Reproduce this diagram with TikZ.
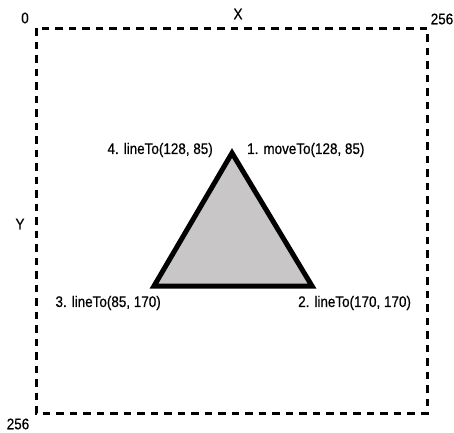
\documentclass[tikz,border=0pt]{standalone}
\usepackage{fontspec}
\setmainfont[FakeStretch=0.88,FakeBold=0.6]{Liberation Sans}
\usetikzlibrary{positioning}

\tikzset{
  lbl/.style={inner sep=0pt,font=\fontsize{15.3}{17}\selectfont},
  canvas/.style={line width=3pt,dash pattern=on 7.5pt off 6pt}
}
\definecolor{tri}{RGB}{200,198,198}

\begin{document}
\begin{tikzpicture}[x=1pt,y=-1pt]
        \useasboundingbox (0,0) rectangle (454,432);
        % canvas corners
        \coordinate (tl) at (36,28);
        \coordinate (br) at (427,413);
        \draw[canvas] (tl) rectangle (br);

        % triangle
        \coordinate (p1) at (232,153);
        \coordinate (p2) at (312,286);
        \coordinate (p3) at (154,286);
        \filldraw[line width=5pt,fill=tri] (p1) -- (p2) -- (p3) -- cycle;

        % axis labels
        \node[lbl] (zero) at (25,18) {0};
        \node[lbl] (xlab) at (238,14) {X};
        \node[lbl] (xmax) at (442,19) {256};
        \node[lbl] (ylab) at (20,224) {Y};
        \node[lbl] (ymax) at (18,424) {256};

        % point labels
        \node[lbl,anchor=east] (l4) at (213,150) {4. lineTo(128, 85)};
        \node[lbl,anchor=west] (l1) at (247,150) {1. moveTo(128, 85)};
        \node[lbl,anchor=east] (l3) at (161,303) {3. lineTo(85, 170)};
        \node[lbl,anchor=west] (l2) at (298,303) {2. lineTo(170, 170)};
    \end{tikzpicture}
\end{document}
